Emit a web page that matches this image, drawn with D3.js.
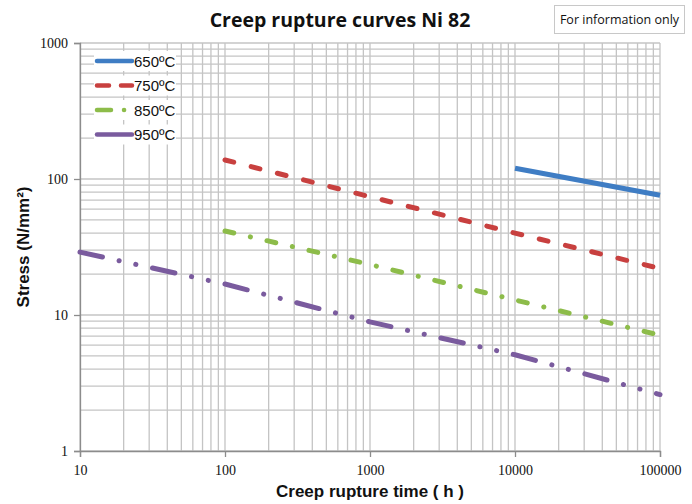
<!DOCTYPE html>
<html>
<head>
<meta charset="utf-8">
<script src="https://cdn.jsdelivr.net/npm/d3@7/dist/d3.min.js"></script>
<style>
  body { margin: 0; background: #fff; }
</style>
</head>
<body>
<div id="chart"></div>
<script>
// temperatures and their curves (time in h, stress in N/mm2)
var series = ["650ºC", "750ºC", "850ºC", "950ºC"];
var colors = ["#3f7dc4", "#c8403f", "#8dbc4a", "#7a5b9e"];
// round caps add ~2.5px at each end of a dash
var dashes = ["none", "9,18", "9,17,0.1,17", "23,17,0.1,17,0.1,17"];

var t650 = [10000, 100000];
var s650 = [120, 76];
var t750 = [100, 1000, 10000, 100000];
var s750 = [138, 74, 40, 22];
var t850 = [100, 1000, 10000, 100000];
var s850 = [41.5, 23.5, 12.9, 7.1];
var t950 = [10, 100, 1000, 10000, 100000];
var s950 = [29, 16.9, 8.9, 5.1, 2.6];

var xTicks = [10, 100, 1000, 10000, 100000];
var yTicks = [1, 10, 100, 1000];

var W = 692, H = 504;
var margin = { top: 43, right: 32, bottom: 53, left: 80 };
var width = W - margin.left - margin.right,
    height = H - margin.top - margin.bottom;

var svg = d3.select("#chart").append("svg")
    .attr("width", W).attr("height", H);

var g = svg.append("g")
    .attr("transform", "translate(" + margin.left + "," + margin.top + ")");

var x = d3.scaleLog().domain([10, 100000]).range([0, width]);
var y = d3.scaleLog().domain([1, 1000]).range([height, 0]);

// minor + major grid values
function logGrid(lo, hi) {
    var out = [];
    for (var d = lo; d < hi; d *= 10) {
        for (var k = 1; k <= 9; k++) out.push(d * k);
    }
    out.push(hi);
    return out;
}

g.selectAll(".vgrid").data(logGrid(10, 100000)).enter()
    .append("line")
    .attr("x1", function (d) { return x(d); })
    .attr("x2", function (d) { return x(d); })
    .attr("y1", 0).attr("y2", height)
    .attr("stroke", "#c4c4c4").attr("stroke-width", 1.3);

g.selectAll(".hgrid").data(logGrid(1, 1000)).enter()
    .append("line")
    .attr("y1", function (d) { return y(d); })
    .attr("y2", function (d) { return y(d); })
    .attr("x1", 0).attr("x2", width)
    .attr("stroke", "#c4c4c4").attr("stroke-width", 1.3);

// axes
var xAxis = g.append("g")
    .attr("transform", "translate(0," + height + ")")
    .call(d3.axisBottom(x).tickValues(xTicks).tickFormat(d3.format("d")).tickSize(6).tickPadding(8));
var yAxis = g.append("g")
    .call(d3.axisLeft(y).tickValues(yTicks).tickFormat(d3.format("d")).tickSize(6).tickPadding(6));

[xAxis, yAxis].forEach(function (a) {
    a.selectAll("path, line").attr("stroke", "#8c8c8c").attr("stroke-width", 1.3);
    a.selectAll("text")
        .attr("font-family", "Liberation Serif")
        .attr("font-size", 14)
        .attr("fill", "#111");
});

// curves
var curveData = [
    { t: t650, s: s650 },
    { t: t750, s: s750 },
    { t: t850, s: s850 },
    { t: t950, s: s950 }
];

var line = d3.line()
    .x(function (d) { return x(d[0]); })
    .y(function (d) { return y(d[1]); });

curveData.forEach(function (c, i) {
    var pts = c.t.map(function (t, j) { return [t, c.s[j]]; });
    g.append("path")
        .datum(pts)
        .attr("d", line)
        .attr("fill", "none")
        .attr("stroke", colors[i])
        .attr("stroke-width", 5)
        .attr("stroke-linecap", i === 0 ? "butt" : "round")
        .attr("stroke-dasharray", dashes[i]);
});

// legend
var legend = g.append("g").attr("transform", "translate(16,18)");
series.forEach(function (name, i) {
    var row = legend.append("g").attr("transform", "translate(0," + (i * 24.5) + ")");
    row.append("rect").attr("x", -2).attr("y", -10).attr("width", 82).attr("height", 20).attr("fill", "#fff");
    row.append("line")
        .attr("x1", 1).attr("x2", 36).attr("y1", 0).attr("y2", 0)
        .attr("stroke", colors[i]).attr("stroke-width", 4.5)
        .attr("stroke-dasharray", i === 1 ? "12,12" : (i === 2 ? "14,13,0.1,10" : "none"))
        .attr("stroke-linecap", "round");
    row.append("text")
        .attr("x", 38).attr("y", 5.5)
        .attr("font-family", "Liberation Sans")
        .attr("font-size", 15)
        .attr("fill", "#111")
        .text(name);
});

// titles
svg.append("text")
    .attr("x", 340).attr("y", 27)
    .attr("text-anchor", "middle")
    .attr("font-family", "Open Sans")
    .attr("font-weight", "bold")
    .attr("font-size", 19.5)
    .attr("fill", "#111")
    .text("Creep rupture curves Ni 82");

svg.append("rect")
    .attr("x", 554.5).attr("y", 5.5).attr("width", 130).attr("height", 28)
    .attr("fill", "#fff").attr("stroke", "#c8c8c8");
svg.append("text")
    .attr("x", 619.5).attr("y", 24)
    .attr("text-anchor", "middle")
    .attr("font-family", "Open Sans")
    .attr("font-size", 12.5)
    .attr("fill", "#111")
    .text("For information only");

svg.append("text")
    .attr("x", margin.left + width / 2).attr("y", 497)
    .attr("text-anchor", "middle")
    .attr("font-family", "Liberation Sans")
    .attr("font-weight", "bold")
    .attr("font-size", 17)
    .attr("fill", "#111")
    .text("Creep rupture time ( h )");

svg.append("text")
    .attr("transform", "translate(29," + (margin.top + height / 2) + ") rotate(-90)")
    .attr("text-anchor", "middle")
    .attr("font-family", "Liberation Sans")
    .attr("font-weight", "bold")
    .attr("font-size", 17)
    .attr("fill", "#111")
    .text("Stress (N/mm²)");
</script>
</body>
</html>
